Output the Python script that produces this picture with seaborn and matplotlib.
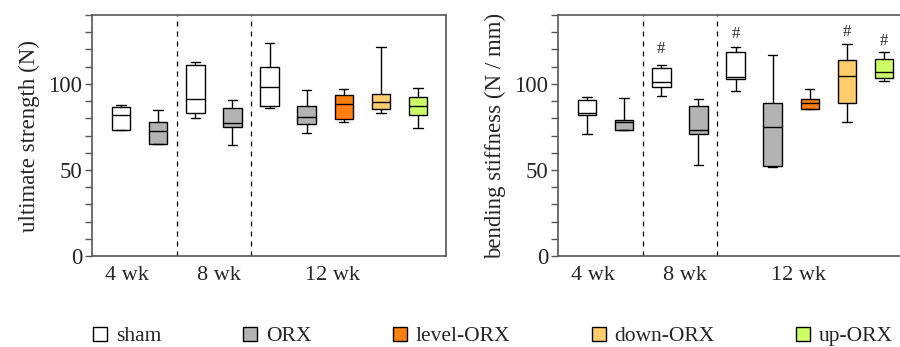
import pandas as pd
import matplotlib.pyplot as plt
import seaborn as sns
from matplotlib.patches import Patch
from matplotlib.ticker import MultipleLocator

# one entry per box: [min, q1, median, q3, max]
boxes = ['4 sham', '4 ORX', '8 sham', '8 ORX',
         '12 sham', '12 ORX', '12 level', '12 down', '12 up']
groups = ['sham', 'ORX', 'sham', 'ORX', 'sham', 'ORX', 'level-ORX', 'down-ORX', 'up-ORX']

strength = [
    [73.2, 73.2, 82.1, 86.6, 87.8],
    [65.0, 65.2, 72.8, 77.9, 84.9],
    [80.0, 83.1, 91.3, 111.0, 112.8],
    [64.3, 74.8, 77.3, 85.8, 90.5],
    [86.0, 87.2, 98.4, 109.7, 123.7],
    [71.5, 76.9, 80.8, 87.2, 96.7],
    [77.9, 79.8, 88.2, 93.6, 97.3],
    [83.1, 85.4, 89.5, 94.2, 121.6],
    [74.4, 82.1, 87.0, 92.4, 97.5],
]
stiffness = [
    [70.9, 81.9, 82.9, 90.7, 92.2],
    [73.2, 73.4, 77.7, 78.8, 92.0],
    [93.0, 97.9, 101.2, 109.3, 111.0],
    [53.0, 71.1, 73.2, 87.0, 91.1],
    [96.1, 102.9, 103.9, 118.6, 121.6],
    [51.8, 52.4, 75.0, 88.7, 116.5],
    [85.2, 85.4, 88.9, 91.3, 96.9],
    [78.0, 88.9, 104.7, 113.8, 123.1],
    [101.9, 103.5, 106.8, 114.2, 118.4],
]
# significance marks (#) on the stiffness panel
hash_boxes = ['8 sham', '12 sham', '12 down', '12 up']
hash_y = [120.3, 129.0, 130.0, 125.0]

week_labels = ['4 wk', '8 wk', '12 wk']
week_pos = [0.15, 2.63, 5.7]

legend_order = ['sham', 'ORX', 'level-ORX', 'down-ORX', 'up-ORX']
palette = {'sham': '#ffffff', 'ORX': '#b3b3b3', 'level-ORX': '#fb7f0f',
           'down-ORX': '#ffcd6c', 'up-ORX': '#ccff66'}


def to_long(values):
    rows = []
    for b, g, v in zip(boxes, groups, values):
        for x in v:
            rows.append({'box': b, 'group': g, 'value': x})
    return pd.DataFrame(rows)


sns.set_style('ticks')
plt.rcParams['font.family'] = ['Liberation Serif', 'DejaVu Serif']

fig = plt.figure(figsize=(9, 3.47), dpi=100)
ax1 = fig.add_axes([0.1022, 0.2622, 0.3933, 0.6945])
ax2 = fig.add_axes([0.62, 0.2622, 0.3933, 0.6945])

for ax, vals, ylab in [(ax1, strength, 'ultimate strength (N)'),
                       (ax2, stiffness, 'bending stiffness (N / mm)')]:
    sns.boxplot(data=to_long(vals), x='box', y='value', hue='group', order=boxes,
                palette=palette, dodge=False, width=0.5, whis=(0, 100),
                saturation=1, linecolor='black', linewidth=1, legend=False, ax=ax)
    for xv in [1.5, 3.5]:
        ax.axvline(xv, color='black', lw=0.9, ls=(0, (4, 4)))
    ax.set_xlim(-0.78, 8.75)
    ax.set_ylim(0, 140)
    ax.set_yticks([0, 50, 100])
    ax.yaxis.set_minor_locator(MultipleLocator(10))
    ax.set_xticks(week_pos, week_labels)
    ax.tick_params(axis='x', length=0, pad=7, labelsize=16)
    ax.tick_params(axis='y', which='both', length=5, width=1, color='#555555',
                   pad=2, labelsize=16.5)
    ax.set_xlabel('')
    ax.set_ylabel(ylab, fontsize=16.5, labelpad=6)
    for s in ax.spines.values():
        s.set_color('#555555')
        s.set_linewidth(1.2)

for b, y in zip(hash_boxes, hash_y):
    ax2.text(boxes.index(b), y, '#', ha='center', va='center', fontsize=12)

handles = [Patch(facecolor=palette[g], edgecolor='black', lw=1) for g in legend_order]
fig.legend(handles, legend_order, loc='center', bbox_to_anchor=(0.548, 0.03), ncol=5,
           frameon=False, fontsize=15.5, handlelength=0.65, handleheight=0.65,
           handletextpad=0.4, columnspacing=3.8, borderaxespad=0)

plt.savefig('out.png', dpi=100)
